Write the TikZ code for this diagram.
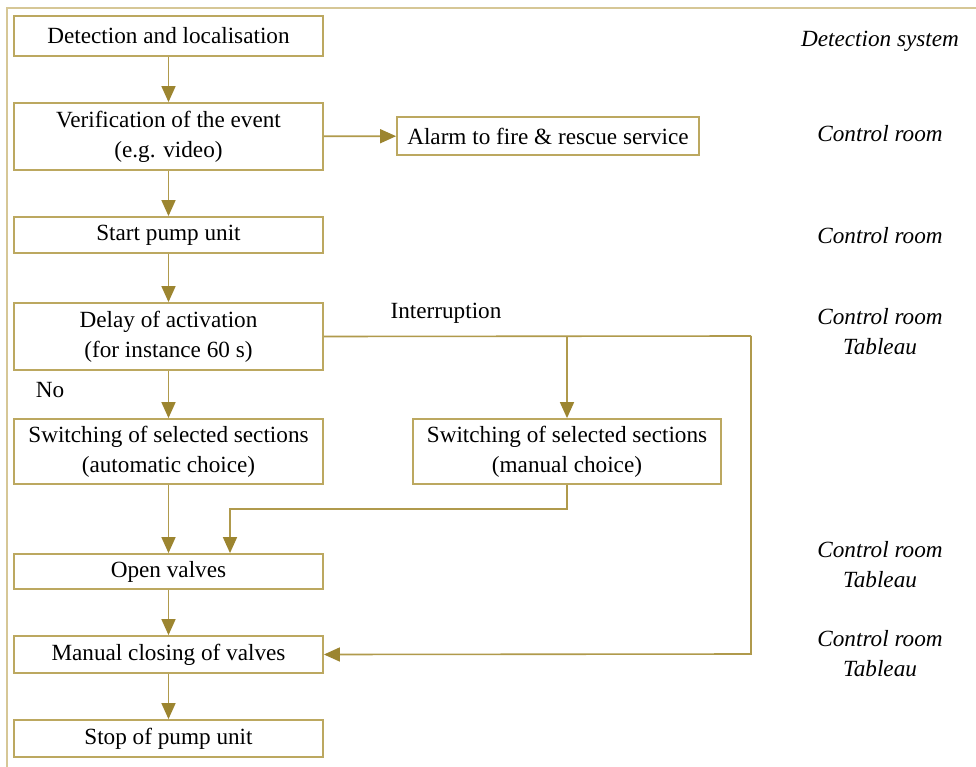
\documentclass[tikz,border=0pt]{standalone}
\usepackage{fontspec}
\setmainfont{Liberation Serif}
\usetikzlibrary{arrows.meta}
\definecolor{boxc}{HTML}{BCA860}
\definecolor{framec}{HTML}{D6C796}
\definecolor{linec}{HTML}{B09A4C}
\definecolor{tipc}{HTML}{9C8530}
\tikzset{
  stepbox/.style={draw=boxc, line width=1.8pt, minimum width=309pt, inner sep=0pt, align=center, font=\fontsize{23.2}{30}\selectfont},
  conn/.style={draw=linec, line width=1.6pt, -{Triangle[length=16pt,width=14pt,fill=tipc,color=tipc]}},
  plain/.style={draw=linec, line width=1.6pt},
  lbl/.style={font=\fontsize{23.2}{29.5}\selectfont\itshape, align=center},
  txt/.style={font=\fontsize{23.2}{28}\selectfont},
}
\begin{document}
\begin{tikzpicture}[x=1pt,y=-1pt]
\useasboundingbox (0,0) rectangle (976,767);
\fill[white] (0,0) rectangle (976,767);
\draw[framec, line width=2pt] (7,767) -- (7,8) -- (976,8);

\node[stepbox, minimum height=40pt] (det) at (168.5,36) {Detection and localisation};
\node[stepbox, minimum height=67pt] (ver) at (168.5,136.5) {Verification of the event\\(e.g. video)};
\node[stepbox, minimum width=302pt, minimum height=38pt] (alarm) at (548,136) {Alarm to fire \& rescue service};
\node[stepbox, minimum height=36pt] (start) at (168.5,235) {Start pump unit};
\node[stepbox, minimum height=67pt] (delay) at (168.5,336.5) {Delay of activation\\(for instance 60 s)};
\node[stepbox, minimum height=65pt] (auto) at (168.5,451.5) {Switching of selected sections\\(automatic choice)};
\node[stepbox, minimum width=308pt, minimum height=65pt] (manual) at (567,451.5) {Switching of selected sections\\(manual choice)};
\node[stepbox, minimum height=35pt] (open) at (168.5,571.5) {Open valves};
\node[stepbox, minimum height=37pt] (close) at (168.5,654.5) {Manual closing of valves};
\node[stepbox, minimum height=37pt] (stop) at (168.5,738.5) {Stop of pump unit};

\node[txt] (intr) at (446,313) {Interruption};
\node[txt] (no) at (50,390) {No};

\node[lbl] (l1) at (880,41) {Detection system};
\node[lbl] (l2) at (880,134) {Control room};
\node[lbl] (l3) at (880,236) {Control room};
\node[lbl] (l4) at (880,331.5) {Control room\\Tableau};
\node[lbl] (l5) at (880,564.5) {Control room\\Tableau};
\node[lbl] (l6) at (880,653.5) {Control room\\Tableau};

\coordinate (br) at (567,336);
\coordinate (rc) at (751,336);
\coordinate (rd) at (751,654);
\coordinate (mj) at (567,509);
\coordinate (oj) at (230,509);

\draw[conn] (det) -- (ver);
\draw[conn] (ver) -- (alarm);
\draw[conn] (ver) -- (start);
\draw[conn] (start) -- (delay);
\draw[conn] (delay) -- (auto);
\draw[conn] (auto) -- (open);
\draw[conn] (open) -- (close);
\draw[conn] (close) -- (stop);
\draw[plain] (delay.east) -- (rc);
\draw[conn] (rc) -- (rd) -- (close.east);
\draw[conn] (br) -- (manual.north);
\draw[conn] (manual.south) -- (mj) -- (oj) -- (oj |- open.north);
\end{tikzpicture}
\end{document}
